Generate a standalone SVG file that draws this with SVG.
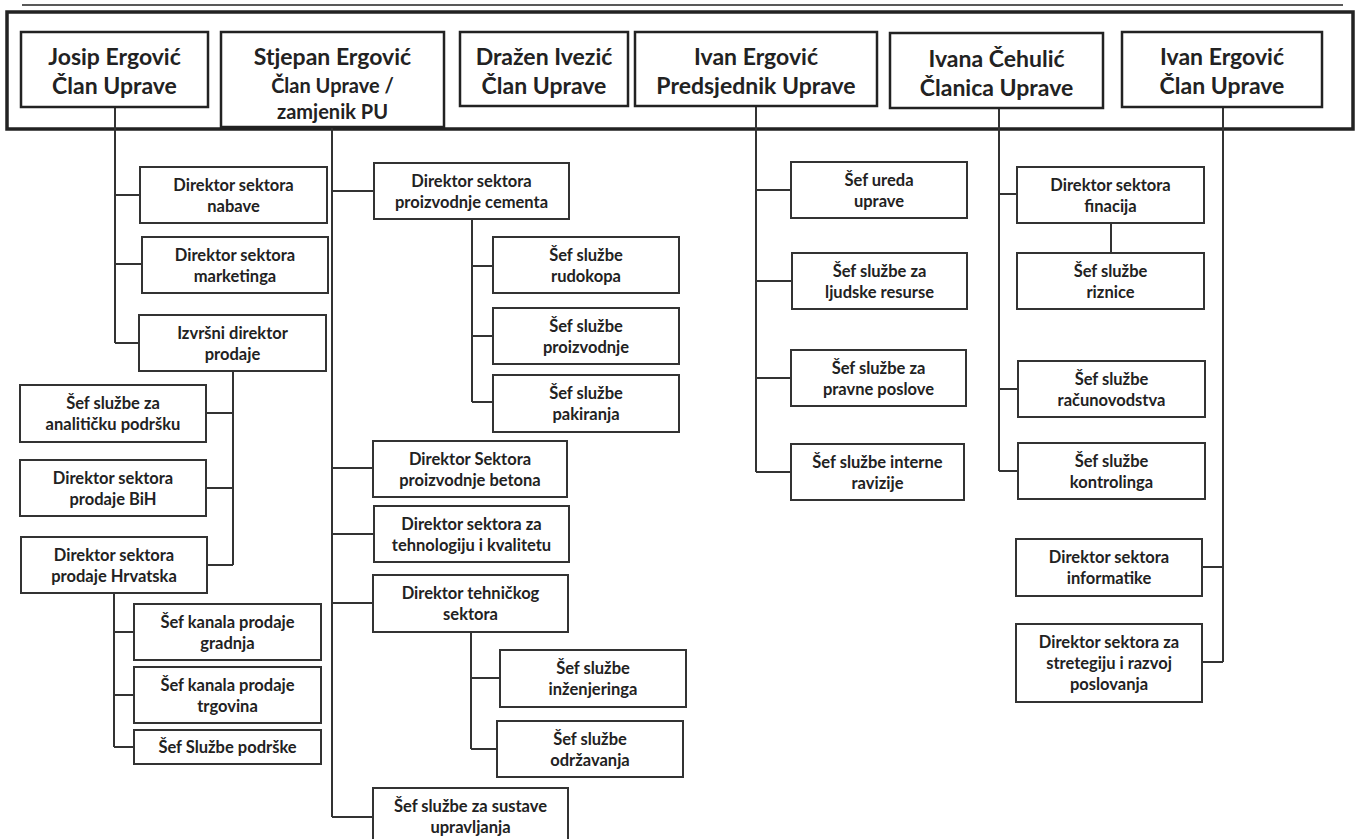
<svg xmlns="http://www.w3.org/2000/svg" width="1357" height="839" viewBox="0 0 1357 839">
<style>
.bx{fill:#fff;stroke:#333;stroke-width:2}
.hb{fill:#fff;stroke:#222;stroke-width:2.5}
.t{font-family:Lato,"Liberation Sans",sans-serif;font-weight:700;font-size:16.5px;fill:#222;text-anchor:middle}
.h{font-family:Lato,"Liberation Sans",sans-serif;font-weight:700;font-size:23px;fill:#222;text-anchor:middle}
.hs{font-size:20px}
.ln{fill:none;stroke:#333;stroke-width:2}
</style>
<rect width="1357" height="839" fill="#fff"/>
<line x1="22" y1="5" x2="1343" y2="5" stroke="#222" stroke-width="1.5"/>
<rect x="7" y="12" width="1346" height="117" fill="#fff" stroke="#222" stroke-width="3.5"/>
<g id="connectors">
<path class="ln" d="M115,107V343M115,195H140M115,264H142M115,343H139"/>
<path class="ln" d="M233,371V565M206,413H233M206,488H233M207,565H233"/>
<path class="ln" d="M114,593V747M114,632H134M114,695H134M114,747H134"/>
<path class="ln" d="M332,127V817M332,191H374M332,468H373M332,534H374M332,603H373M332,817H373"/>
<path class="ln" d="M472,219V402M472,266H493M472,336H493M472,402H493"/>
<path class="ln" d="M471,632V749M471,678H500M471,749H497"/>
<path class="ln" d="M756,106V472M756,190H791M756,281H792M756,378H791M756,472H791"/>
<path class="ln" d="M999,108V471M999,194H1017M999,389H1018M999,471H1018M1111,223V253"/>
<path class="ln" d="M1223,107V662M1202,567H1223M1202,662H1223"/>
</g>
<g id="h_josip"><rect class="hb" x="21" y="32" width="187" height="75"/><text class="h" x="114.5" y="65">Josip Ergović</text><text class="h" x="114.5" y="94">Član Uprave</text></g>
<g id="h_stjepan"><rect class="hb" x="221" y="32" width="223" height="95"/><text class="h" x="332.5" y="65">Stjepan Ergović</text><text class="h hs" x="332.5" y="93">Član Uprave /</text><text class="h hs" x="332.5" y="119">zamjenik PU</text></g>
<g id="h_drazen"><rect class="hb" x="460" y="32" width="168" height="74"/><text class="h" x="544" y="65">Dražen Ivezić</text><text class="h" x="544" y="94">Član Uprave</text></g>
<g id="h_ivanp"><rect class="hb" x="635" y="32" width="242" height="74"/><text class="h" x="756" y="65">Ivan Ergović</text><text class="h" x="756" y="94">Predsjednik Uprave</text></g>
<g id="h_ivana"><rect class="hb" x="890" y="33" width="213" height="75"/><text class="h" x="996.5" y="67">Ivana Čehulić</text><text class="h" x="996.5" y="96">Članica Uprave</text></g>
<g id="h_ivanc"><rect class="hb" x="1122" y="32" width="200" height="75"/><text class="h" x="1222" y="65">Ivan Ergović</text><text class="h" x="1222" y="94">Član Uprave</text></g>

<g id="b_nabave"><rect class="bx" x="140" y="167" width="187" height="56"/><text class="t" x="233.5" y="190.5">Direktor sektora</text><text class="t" x="233.5" y="211.5">nabave</text></g>
<g id="b_marketing"><rect class="bx" x="142" y="237" width="186" height="56"/><text class="t" x="235" y="260.5">Direktor sektora</text><text class="t" x="235" y="281.5">marketinga</text></g>
<g id="b_izvrsni"><rect class="bx" x="139" y="315" width="187" height="56"/><text class="t" x="232.5" y="338.5">Izvršni direktor</text><text class="t" x="232.5" y="359.5">prodaje</text></g>
<g id="b_analit"><rect class="bx" x="20" y="385" width="186" height="57"/><text class="t" x="113" y="408.5">Šef službe za</text><text class="t" x="113" y="429.5">analitičku podršku</text></g>
<g id="b_bih"><rect class="bx" x="20" y="460" width="186" height="56"/><text class="t" x="113" y="483.5">Direktor sektora</text><text class="t" x="113" y="504.5">prodaje BiH</text></g>
<g id="b_hrv"><rect class="bx" x="21" y="537" width="186" height="56"/><text class="t" x="114" y="560.5">Direktor sektora</text><text class="t" x="114" y="581.5">prodaje Hrvatska</text></g>
<g id="b_gradnja"><rect class="bx" x="134" y="604" width="187" height="56"/><text class="t" x="227.5" y="627.5">Šef kanala prodaje</text><text class="t" x="227.5" y="648.5">gradnja</text></g>
<g id="b_trgovina"><rect class="bx" x="134" y="667" width="187" height="56"/><text class="t" x="227.5" y="690.5">Šef kanala prodaje</text><text class="t" x="227.5" y="711.5">trgovina</text></g>
<g id="b_podrske"><rect class="bx" x="134" y="730" width="187" height="34"/><text class="t" x="227.5" y="753">Šef Službe podrške</text></g>

<g id="c_cement"><rect class="bx" x="374" y="163" width="195" height="56"/><text class="t" x="471.5" y="186.5">Direktor sektora</text><text class="t" x="471.5" y="207.5">proizvodnje cementa</text></g>
<g id="c_rudokop"><rect class="bx" x="493" y="237" width="186" height="56"/><text class="t" x="586" y="260.5">Šef službe</text><text class="t" x="586" y="281.5">rudokopa</text></g>
<g id="c_proizv"><rect class="bx" x="493" y="308" width="186" height="56"/><text class="t" x="586" y="331.5">Šef službe</text><text class="t" x="586" y="352.5">proizvodnje</text></g>
<g id="c_pakir"><rect class="bx" x="493" y="375" width="186" height="57"/><text class="t" x="586" y="398.5">Šef službe</text><text class="t" x="586" y="419.5">pakiranja</text></g>
<g id="c_beton"><rect class="bx" x="373" y="441" width="194" height="56"/><text class="t" x="470" y="464.5">Direktor Sektora</text><text class="t" x="470" y="485.5">proizvodnje betona</text></g>
<g id="c_tehno"><rect class="bx" x="374" y="506" width="195" height="56"/><text class="t" x="471.5" y="529.5">Direktor sektora za</text><text class="t" x="471.5" y="550.5">tehnologiju i kvalitetu</text></g>
<g id="c_tehnicki"><rect class="bx" x="373" y="575" width="195" height="57"/><text class="t" x="470.5" y="598.5">Direktor tehničkog</text><text class="t" x="470.5" y="619.5">sektora</text></g>
<g id="c_inzenj"><rect class="bx" x="500" y="650" width="186" height="57"/><text class="t" x="593" y="673.5">Šef službe</text><text class="t" x="593" y="694.5">inženjeringa</text></g>
<g id="c_odrz"><rect class="bx" x="497" y="721" width="186" height="56"/><text class="t" x="590" y="744.5">Šef službe</text><text class="t" x="590" y="765.5">održavanja</text></g>
<g id="c_sustave"><rect class="bx" x="373" y="788" width="195" height="56"/><text class="t" x="470.5" y="811.5">Šef službe za sustave</text><text class="t" x="470.5" y="832.5">upravljanja</text></g>

<g id="d_ured"><rect class="bx" x="791" y="162" width="176" height="56"/><text class="t" x="879" y="185.5">Šef ureda</text><text class="t" x="879" y="206.5">uprave</text></g>
<g id="d_ljud"><rect class="bx" x="792" y="253" width="175" height="56"/><text class="t" x="879.5" y="276.5">Šef službe za</text><text class="t" x="879.5" y="297.5">ljudske resurse</text></g>
<g id="d_prav"><rect class="bx" x="791" y="350" width="175" height="56"/><text class="t" x="878.5" y="373.5">Šef službe za</text><text class="t" x="878.5" y="394.5">pravne poslove</text></g>
<g id="d_rev"><rect class="bx" x="791" y="444" width="173" height="56"/><text class="t" x="877.5" y="467.5">Šef službe interne</text><text class="t" x="877.5" y="488.5">ravizije</text></g>

<g id="e_fin"><rect class="bx" x="1017" y="167" width="187" height="56"/><text class="t" x="1110.5" y="190.5">Direktor sektora</text><text class="t" x="1110.5" y="211.5">finacija</text></g>
<g id="e_riz"><rect class="bx" x="1017" y="253" width="187" height="56"/><text class="t" x="1110.5" y="276.5">Šef službe</text><text class="t" x="1110.5" y="297.5">riznice</text></g>
<g id="e_rac"><rect class="bx" x="1018" y="361" width="187" height="56"/><text class="t" x="1111.5" y="384.5">Šef službe</text><text class="t" x="1111.5" y="405.5">računovodstva</text></g>
<g id="e_kon"><rect class="bx" x="1018" y="443" width="187" height="56"/><text class="t" x="1111.5" y="466.5">Šef službe</text><text class="t" x="1111.5" y="487.5">kontrolinga</text></g>

<g id="f_inf"><rect class="bx" x="1016" y="539" width="186" height="57"/><text class="t" x="1109" y="562.5">Direktor sektora</text><text class="t" x="1109" y="583.5">informatike</text></g>
<g id="f_str"><rect class="bx" x="1016" y="624" width="186" height="78"/><text class="t" x="1109" y="648">Direktor sektora za</text><text class="t" x="1109" y="669">stretegiju i razvoj</text><text class="t" x="1109" y="690">poslovanja</text></g>
</svg>
